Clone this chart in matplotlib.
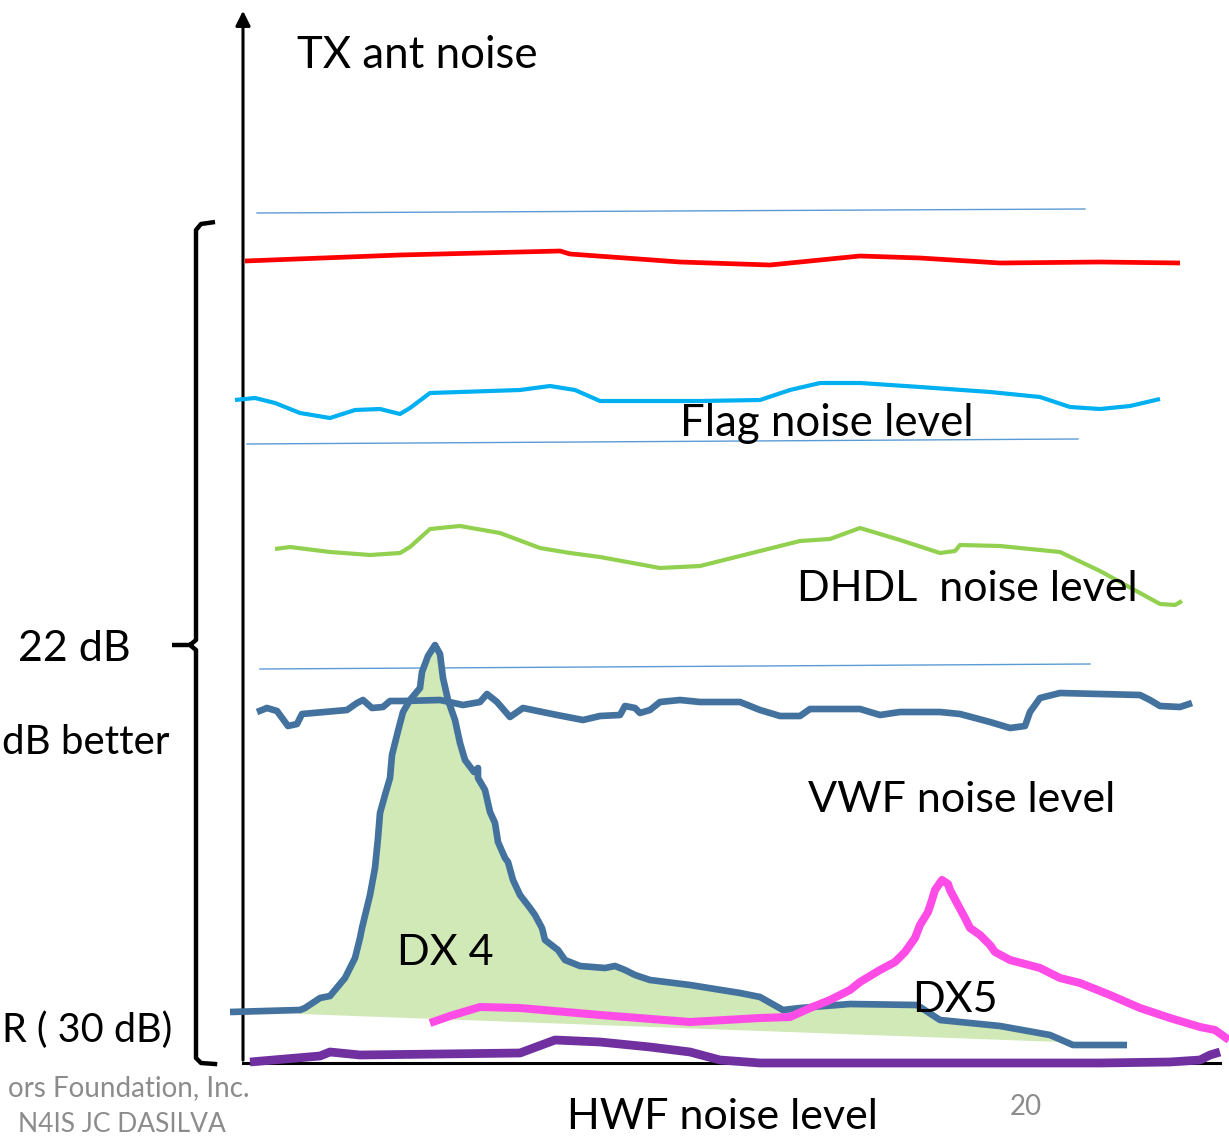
import matplotlib
matplotlib.use("Agg")
import matplotlib.pyplot as plt
import numpy as np

W, H = 1229, 1138
plt.rcParams['font.family'] = ['Lato', 'DejaVu Sans']

# ---- data (hand-drawn diagram, values in image units) ----
red_x = [245, 400, 560, 570, 680, 770, 830, 860, 920, 1000, 1100, 1180]
red_y = [261, 255, 251, 254, 262, 265, 259, 256, 258, 263, 262, 263]

thin_lines = [((257, 1085), (213, 209)), ((247, 1078), (444, 439)), ((260, 1090), (669, 664))]

flag_x = [235, 255, 275, 300, 330, 355, 380, 400, 410, 430, 460, 520, 550, 575, 600, 640, 700, 760, 790,
          820, 860, 920, 990, 1040, 1070, 1100, 1130, 1160]
flag_y = [400, 398, 403, 413, 418, 410, 409, 414, 408, 393, 392, 390, 386, 390, 401, 401, 401, 400, 390,
          383, 383, 387, 392, 397, 407, 409, 406, 399]

dhdl_x = [275, 290, 330, 370, 400, 410, 430, 460, 500, 540, 570, 600, 660, 700, 740, 800, 830, 860, 900,
          940, 955, 960, 1000, 1060, 1100, 1140, 1160, 1175, 1182]
dhdl_y = [549, 547, 552, 555, 553, 547, 529, 526, 533, 548, 553, 557, 568, 566, 556, 541, 539, 528, 540,
          553, 551, 545, 546, 552, 571, 593, 604, 605, 601]

vwf_x = [257, 267, 277, 288, 297, 302, 347, 357, 363, 372, 383, 390, 403, 440, 463, 480, 487, 497, 510,
         523, 557, 583, 600, 620, 625, 635, 640, 650, 660, 680, 700, 740, 760, 780, 800, 810, 860, 880, 900,
         940, 960, 990, 1010, 1025, 1030, 1040, 1060, 1100, 1140, 1150, 1160, 1180, 1192]
vwf_y = [712, 708, 711, 726, 724, 714, 710, 703, 700, 708, 707, 701, 701, 700, 705, 702, 694, 702, 717,
         708, 715, 720, 716, 715, 706, 708, 713, 710, 702, 700, 702, 702, 710, 716, 716, 709, 709, 715, 712,
         712, 714, 722, 728, 726, 712, 698, 693, 694, 695, 700, 706, 707, 703]

dx4_x = [230, 300, 305, 320, 330, 345, 355, 360, 362, 370, 375, 378, 380, 385, 390, 392, 398, 403, 410,
         420, 422, 428, 435, 440, 443, 448, 455, 460, 465, 474, 478, 478, 485, 490, 495, 498, 505, 508, 513,
         520, 530, 535, 542, 545, 558, 565, 580, 605, 615, 625, 635, 650, 690, 740, 760, 783, 800, 850, 917,
         940, 1000, 1050, 1073, 1127]
dx4_y = [1012, 1010, 1008, 998, 996, 978, 958, 938, 928, 895, 868, 838, 813, 795, 778, 755, 731, 712, 700,
         688, 672, 656, 645, 654, 678, 700, 720, 743, 760, 772, 768, 778, 790, 812, 823, 842, 858, 862, 880,
         895, 908, 915, 928, 940, 950, 960, 966, 968, 966, 970, 975, 980, 985, 993, 997, 1010, 1008, 1004,
         1005, 1020, 1026, 1035, 1045, 1045]
dx4_base_x = [1060, 300]
dx4_base_y = [1042, 1014]

dx5_x = [430, 450, 480, 520, 600, 690, 760, 790, 810, 830, 850, 860, 880, 895, 905, 915, 920, 928, 932,
         935, 942, 948, 950, 958, 965, 970, 980, 990, 995, 1010, 1040, 1060, 1080, 1110, 1140, 1170, 1200,
         1215, 1229]
dx5_y = [1023, 1016, 1007, 1008, 1015, 1022, 1018, 1017, 1008, 1000, 990, 982, 970, 962, 952, 938, 925,
         912, 900, 890, 880, 884, 890, 905, 918, 928, 935, 945, 952, 960, 968, 978, 983, 995, 1008, 1018,
         1027, 1030, 1040]

hwf_x = [250, 320, 330, 360, 520, 555, 600, 650, 690, 720, 760, 1000, 1100, 1170, 1200, 1210, 1220]
hwf_y = [1062, 1056, 1052, 1055, 1053, 1040, 1042, 1047, 1052, 1060, 1063, 1063, 1063, 1062, 1060, 1055, 1052]

labels = {
    "TX ant noise": (297, 55, 'left', 'black', 31.5),
    "Flag noise level": (680, 423, 'left', 'black', 31.5),
    "DHDL  noise level": (797, 589, 'left', 'black', 31),
    "22 dB": (18, 649, 'left', 'black', 31),
    "dB better": (2, 742, 'left', 'black', 29),
    "VWF noise level": (808, 800, 'left', 'black', 31),
    "DX 4": (397, 953, 'left', 'black', 31),
    "DX5": (912, 1000, 'left', 'black', 31),
    "R ( 30 dB)": (2, 1030, 'left', 'black', 28.5),
    "ors Foundation, Inc.": (250, 1088, 'right', '#8c8c8c', 20),
    "N4IS JC DASILVA": (18, 1125, 'left', '#8c8c8c', 19),
    "20": (1010, 1107, 'left', '#8c8c8c', 20),
    "HWF noise level": (567, 1117, 'left', 'black', 31),
}

fig = plt.figure(figsize=(W / 100, H / 100), dpi=100)
ax = fig.add_axes([0, 0, 1, 1])
ax.set_xlim(0, W)
ax.set_ylim(H, 0)
ax.axis('off')

# axes of diagram
ax.plot([1220, 243], [1063, 1063], color='black', lw=2.2, zorder=2)
ax.annotate('', xy=(243, 8), xytext=(243, 1063),
            arrowprops=dict(arrowstyle='-|>', color='black', lw=2.2, mutation_scale=22), zorder=2)

# bracket
ax.plot([215, 201, 196, 196, 190, 172], [222, 224, 230, 640, 645, 645], color='black', lw=3.2, zorder=2,
        solid_capstyle='butt', solid_joinstyle='round')
ax.plot([190, 196, 196, 201, 215], [645, 650, 1058, 1063, 1064], color='black', lw=3.2, zorder=2,
        solid_joinstyle='round')

for (xs, ys) in thin_lines:
    ax.plot(xs, ys, color='#5b9bd5', lw=1.0, zorder=2)

kw = dict(solid_joinstyle='round', solid_capstyle='butt')
ax.plot(red_x, red_y, color='#ff0000', lw=3.4, zorder=3, **kw)
ax.plot(flag_x, flag_y, color='#00b0f0', lw=3.0, zorder=3, **kw)
ax.plot(dhdl_x, dhdl_y, color='#92d050', lw=3.0, zorder=3, **kw)

# DX4 fill
dx4x = np.array(dx4_x); dx4y = np.array(dx4_y)
m = (dx4x >= 300) & (dx4x <= 1060)
px = np.concatenate([dx4x[m], dx4_base_x])
py = np.concatenate([dx4y[m], dx4_base_y])
ax.fill(px, py, color='#d0e9b7', lw=0, zorder=2.5)

ax.plot(vwf_x, vwf_y, color='#44729e', lw=4.8, zorder=3, **kw)
ax.plot(dx4_x, dx4_y, color='#44729e', lw=4.8, zorder=3, **kw)
ax.plot(dx5_x, dx5_y, color='#ff4ce6', lw=5.8, zorder=3.5, **kw)
ax.plot(hwf_x, hwf_y, color='#7030a0', lw=6.3, zorder=3.5, **kw)

for t, (x, y, ha, c, fs) in labels.items():
    ax.text(x, y, t, ha=ha, va='center', color=c, fontsize=fs, zorder=5)

fig.savefig('out.png', dpi=100)
